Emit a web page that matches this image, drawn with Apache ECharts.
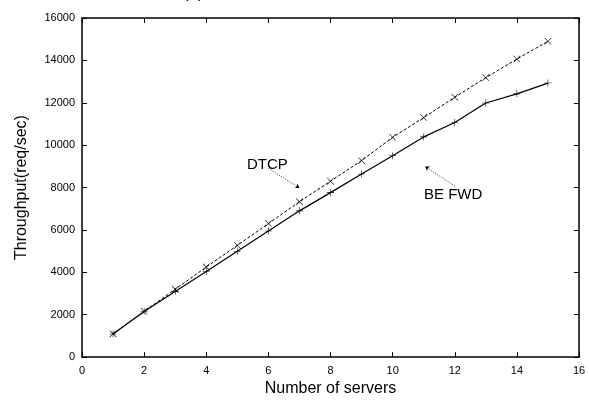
<!DOCTYPE html>
<html>
<head>
<meta charset="utf-8">
<script src="https://cdn.jsdelivr.net/npm/echarts@6/dist/echarts.min.js"></script>
<style>html,body{margin:0;padding:0;background:#fff}#c{width:589px;height:402px}</style>
</head>
<body>
<div id="c"></div>
<script>
var servers = [1,2,3,4,5,6,7,8,9,10,11,12,13,14,15];
var dtcp   = [1100,2160,3200,4250,5270,6300,7330,8300,9270,10370,11300,12260,13190,14060,14900];
var befwd  = [1090,2150,3100,4040,4990,5950,6900,7760,8640,9500,10390,11070,11990,12420,12930];
var dtcpArrow  = [[6.0,8900],[7.0,7980]];
var befwdArrow = [[12.0,8070],[11.05,8990]];

var FONT = '"Liberation Sans", Arial, sans-serif';
var plusPath = 'path://M0,4.6H10V5.4H0Z M4.6,0H5.4V10H4.6Z';
var crossPath = 'path://M0.6,0L5,4.4L9.4,0L10,0.6L5.6,5L10,9.4L9.4,10L5,5.6L0.6,10L0,9.4L4.4,5L0,0.6Z';

function pairs(xs, ys){ return xs.map(function(x,i){return [x, ys[i]];}); }

var chart = echarts.init(document.getElementById('c'), null, {renderer:'canvas'});
var axisCommon = {
  axisLine:{show:true, onZero:false, lineStyle:{color:'#000', width:1.5}},
  axisTick:{show:true, inside:true, length:5, lineStyle:{color:'#000', width:1}},
  splitLine:{show:false}
};
chart.setOption({
  animation:false,
  backgroundColor:'#fff',
  grid:{left:82, right:10, top:18, bottom:37, containLabel:false},
  graphic:[
    {type:'text', left:183, top:-15, style:{text:'(a)', font:'17px '+FONT, fill:'#000'}},
    {type:'text', left:247, top:157, style:{text:'DTCP', font:'15px '+FONT, fill:'#000'}},
    {type:'text', left:424, top:187, style:{text:'BE FWD', font:'15px '+FONT, fill:'#000'}}
  ],
  xAxis:[
    Object.assign({type:'value', min:0, max:16, interval:2, position:'bottom',
      name:'Number of servers', nameLocation:'middle', nameGap:22,
      nameTextStyle:{fontFamily:FONT, fontSize:16, color:'#000'},
      axisLabel:{fontFamily:FONT, fontSize:11, color:'#000', margin:8,
        formatter:function(v){return String(v);}}}, axisCommon),
    Object.assign({type:'value', min:0, max:16, interval:2, position:'top',
      axisLabel:{show:false}}, axisCommon)
  ],
  yAxis:[
    Object.assign({type:'value', min:0, max:16000, interval:2000, position:'left',
      name:'Throughput(req/sec)', nameLocation:'middle', nameGap:52,
      nameTextStyle:{fontFamily:FONT, fontSize:16, color:'#000'},
      axisLabel:{fontFamily:FONT, fontSize:11, color:'#000', margin:7,
        formatter:function(v){return String(v);}}}, axisCommon),
    Object.assign({type:'value', min:0, max:16000, interval:2000, position:'right',
      axisLabel:{show:false}}, axisCommon)
  ],
  series:[
    {name:'DTCP', type:'line', data:pairs(servers, dtcp),
     symbol:crossPath, symbolSize:7, showAllSymbol:true,
     lineStyle:{color:'#000', width:1, type:[3,2]},
     itemStyle:{color:'#000'},
     markLine:{silent:true, symbol:['none','arrow'], symbolSize:4,
       lineStyle:{color:'#000', width:0.8, type:[1,1.5]}, label:{show:false},
       data:[[{coord:dtcpArrow[0]},{coord:dtcpArrow[1]}]]}},
    {name:'BE FWD', type:'line', data:pairs(servers, befwd),
     symbol:plusPath, symbolSize:7, showAllSymbol:true,
     lineStyle:{color:'#000', width:1.2},
     itemStyle:{color:'#000'},
     markLine:{silent:true, symbol:['none','arrow'], symbolSize:4,
       lineStyle:{color:'#000', width:0.8, type:[1,1.5]}, label:{show:false},
       data:[[{coord:befwdArrow[0]},{coord:befwdArrow[1]}]]}}
  ]
});
</script>
</body>
</html>
